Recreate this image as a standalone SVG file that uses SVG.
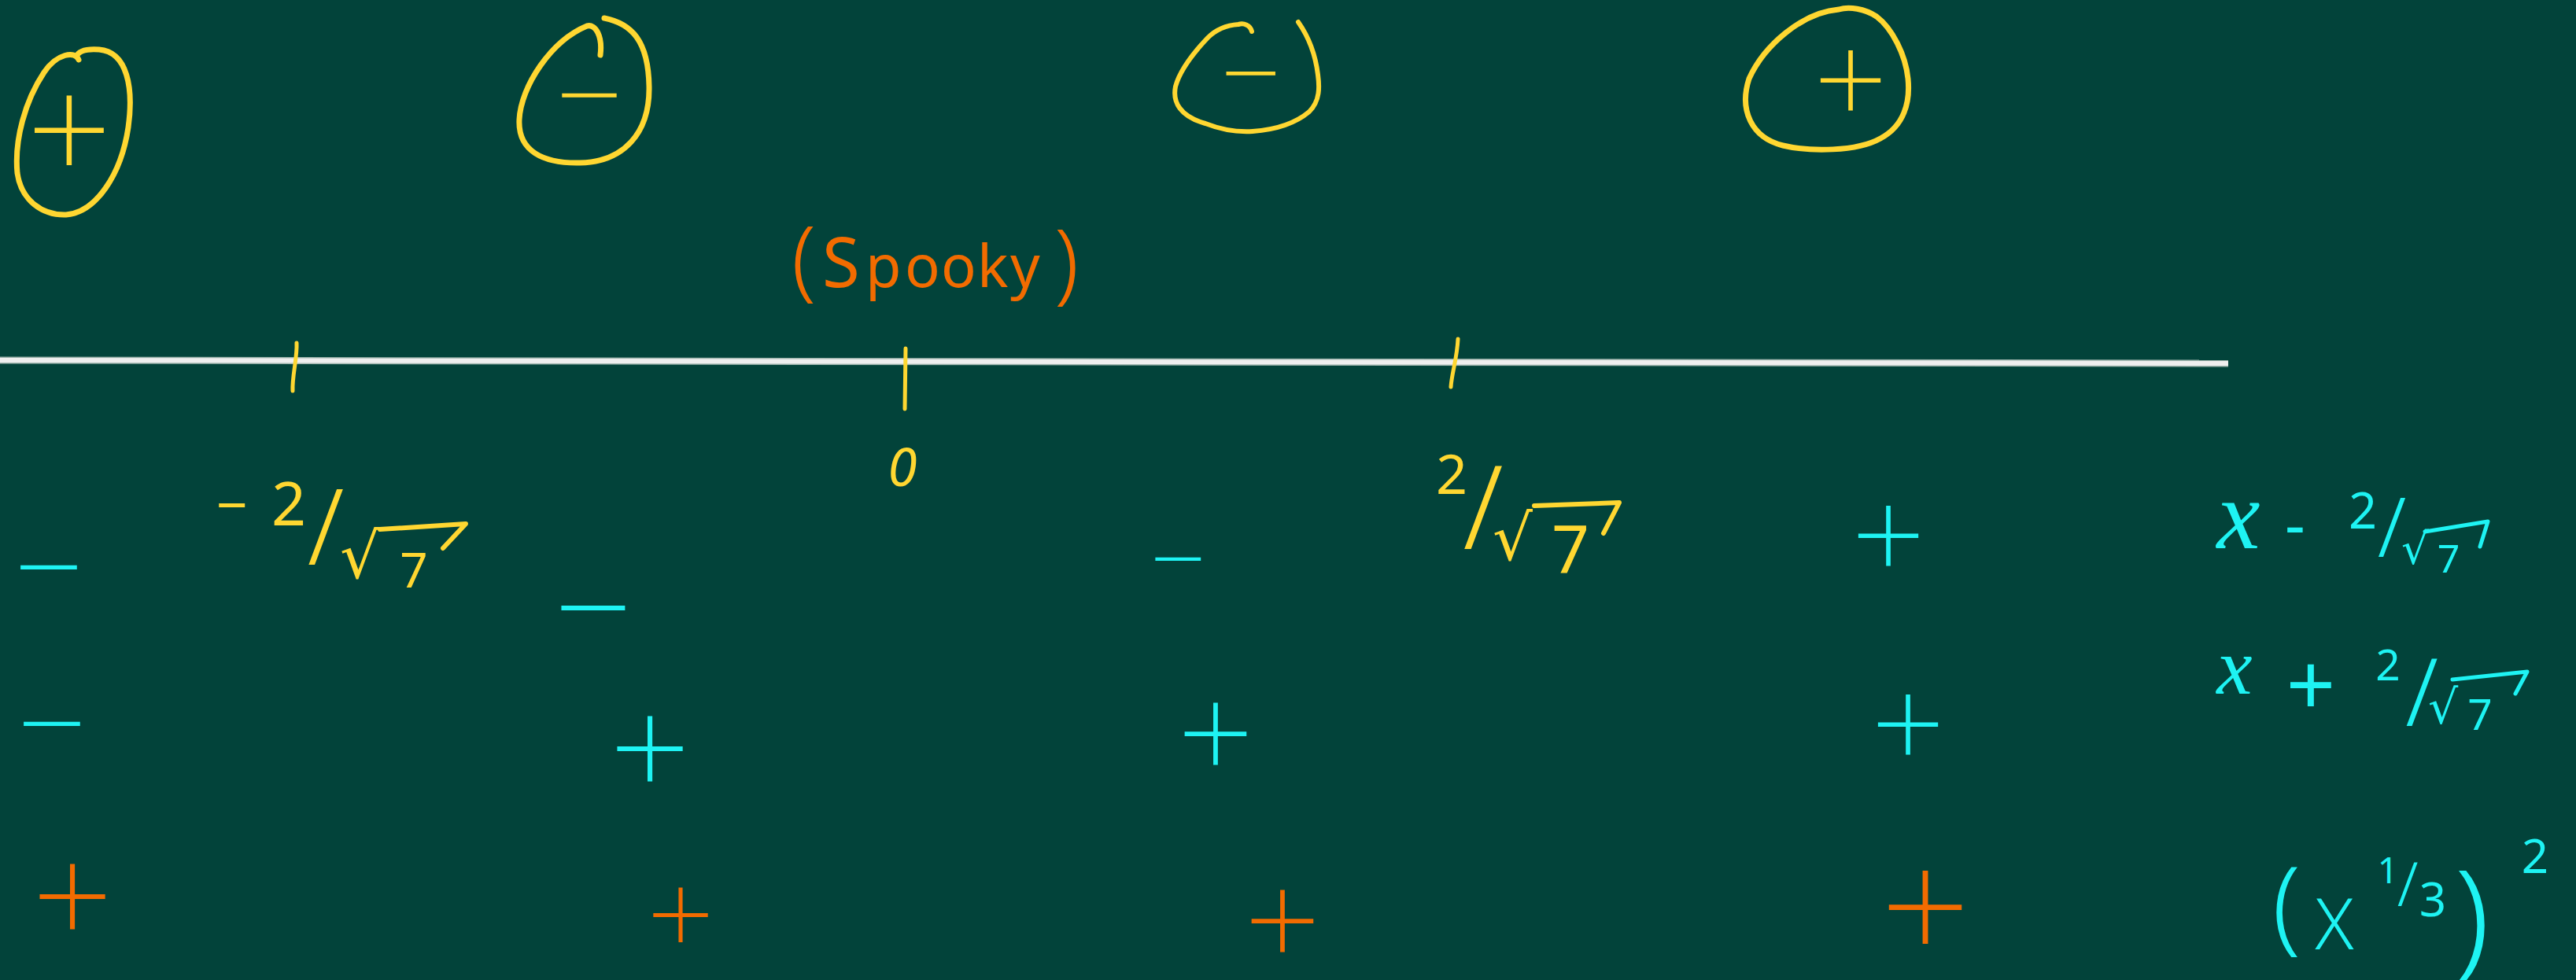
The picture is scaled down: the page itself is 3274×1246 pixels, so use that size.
<svg xmlns="http://www.w3.org/2000/svg" width="3274" height="1246" viewBox="0 0 3274 1246">
<style>
.bg{fill:#02433A}
.ink{fill:none;stroke-linecap:round;stroke-linejoin:round}
.ys{stroke:#FFD731}
.cs{stroke:#1EF3F3}
.yf{fill:#FFD731}
.cf{fill:#1EF3F3}
.of{fill:#F26B00}
.sign{font-family:"Noto Sans","Liberation Sans",sans-serif;font-weight:200;text-anchor:middle}
.t{font-family:"Noto Sans","Liberation Sans",sans-serif;text-anchor:middle}
.sl{font-family:"Noto Sans","Liberation Sans",sans-serif;font-weight:300;text-anchor:middle}
.rad{font-family:"DejaVu Sans",sans-serif}
.mx{font-family:"Liberation Serif",serif;font-style:italic;text-anchor:middle}
.sp{font-family:"Noto Sans","Liberation Sans",sans-serif}
</style>
<rect class="bg" x="0" y="0" width="3274" height="1246"/>

<g id="axis">
<line x1="0" y1="458" x2="2832" y2="462" stroke="#9FB5AE" stroke-width="9"/>
<line x1="0" y1="458" x2="2832" y2="462" stroke="#EFEFEF" stroke-width="6"/>
<g class="ink ys" stroke-width="5">
<path d="M377 436 C378 455 371 478 372 497"/>
<path d="M1151 443 L1150 520"/>
<path d="M1853 431 C1852 455 1845 475 1844 492"/>
</g>
</g>

<g id="region-signs">
<g id="sign1">
<path class="ink ys" stroke-width="7" d="M100 76 C96 64 72 68 56 92 C32 128 18 178 22 220 C27 255 54 274 84 273 C122 270 154 222 163 162 C170 112 162 66 126 63 C112 62 100 64 97 72"/>
<text class="sign yf" x="88" y="233" font-size="190">+</text>
</g>
<g id="sign2">
<path class="ink ys" stroke-width="7" d="M763 70 C766 46 757 30 746 33 C700 52 662 110 660 152 C658 192 690 208 737 207 C792 206 826 170 825 110 C824 52 803 30 768 23"/>
<text class="sign yf" x="749" y="174" font-size="150">−</text>
</g>
<g id="sign3">
<path class="ink ys" stroke-width="6" d="M1591 40 C1589 32 1581 29 1574 31 C1560 32 1546 37 1535 48 C1518 66 1500 88 1494 110 C1490 130 1500 148 1532 157 C1555 166 1575 168 1592 167 C1620 165 1645 158 1664 142 C1678 128 1677 110 1675 95 C1672 70 1664 48 1650 28"/>
<text class="sign yf" x="1590" y="141" font-size="135">−</text>
</g>
<g id="sign4">
<path class="ink ys" stroke-width="7" d="M2337 12 C2290 16 2242 58 2223 100 C2210 140 2226 175 2266 185 C2300 193 2360 193 2390 176 C2420 160 2428 130 2425 100 C2422 70 2405 36 2385 21 C2370 11 2350 8 2337 12"/>
<text class="sign yf" x="2352" y="160" font-size="165">+</text>
</g>
</g>

<g id="spooky">
<text class="sp of" font-size="74" y="366"><tspan x="1006" font-size="112" font-weight="300" y="368">(</tspan><tspan x="1045" font-size="87" y="365">S</tspan><tspan x="1100">p</tspan><tspan x="1150">o</tspan><tspan x="1196">o</tspan><tspan x="1242">k</tspan><tspan x="1284">y</tspan><tspan x="1340" font-size="112" font-weight="300" y="372">)</tspan></text>
</g>

<g id="labels">
<text class="t yf" x="1147" y="618" font-size="67" font-style="italic">0</text>
<g id="lbl-neg">
<text class="t yf" x="295" y="667" font-size="70">−</text>
<text class="t yf" x="367" y="668" font-size="77">2</text>
<text class="sl yf" x="414" y="718" font-size="134">/</text>
<text class="rad yf" x="432" y="735" font-size="80">√</text>
<path class="ink ys" stroke-width="6" d="M483 673 L592 666 L563 697"/>
<text class="t yf" x="526" y="747" font-size="62">7</text>
</g>
<g id="lbl-pos">
<text class="t yf" x="1845" y="628" font-size="70">2</text>
<text class="sl yf" x="1885" y="698" font-size="147">/</text>
<text class="rad yf" x="1897" y="712" font-size="80">√</text>
<path class="ink ys" stroke-width="6" d="M1950 643 L2058 639 L2038 678"/>
<text class="t yf" x="1996" y="728" font-size="84">7</text>
</g>
</g>

<g id="row1">
<text class="sign cf" x="62" y="776" font-size="155">−</text>
<text class="sign cf" x="754" y="835" font-size="175">−</text>
<text class="sign cf" x="1497" y="755" font-size="125">−</text>
<text class="sign cf" x="2400" y="739" font-size="165">+</text>
<g id="expr1">
<text class="mx cf" x="2845" y="697" font-size="124">x</text>
<text class="t cf" x="2917" y="695" font-size="80">-</text>
<text class="t cf" x="3003" y="672" font-size="63">2</text>
<text class="sl cf" x="3040" y="708" font-size="105">/</text>
<text class="rad cf" x="3052" y="717" font-size="55">√</text>
<path class="ink cs" stroke-width="5" d="M3082 676 L3162 663 L3152 695"/>
<text class="t cf" x="3112" y="728" font-size="50">7</text>
</g>
</g>

<g id="row2">
<text class="sign cf" x="66" y="975" font-size="155">−</text>
<text class="sign cf" x="826" y="1015" font-size="180">+</text>
<text class="sign cf" x="1545" y="993" font-size="170">+</text>
<text class="sign cf" x="2425" y="979" font-size="165">+</text>
<g id="expr2">
<text class="mx cf" x="2840" y="882" font-size="102">x</text>
<text class="t cf" x="2937" y="910" font-size="110">+</text>
<text class="t cf" x="3035" y="865" font-size="55">2</text>
<text class="sl cf" x="3078" y="923" font-size="120">/</text>
<text class="rad cf" x="3086" y="920" font-size="60">√</text>
<path class="ink cs" stroke-width="5" d="M3117 864 L3212 854 L3197 882"/>
<text class="t cf" x="3152" y="928" font-size="55">7</text>
</g>
</g>

<g id="row3">
<text class="sign of" x="92" y="1203" font-size="180">+</text>
<text class="sign of" x="865" y="1216" font-size="150">+</text>
<text class="sign of" x="1630" y="1231" font-size="170">+</text>
<text class="sign of" x="2447" y="1224" font-size="200">+</text>
<g id="expr3">
<text class="t cf" x="2906" y="1196" font-size="130" font-weight="300">(</text>
<text class="t cf" x="2967" y="1207" font-size="90" font-weight="300">X</text>
<text class="t cf" x="3035" y="1123" font-size="46">1</text>
<text class="sl cf" x="3060" y="1152" font-size="77">/</text>
<text class="t cf" x="3092" y="1165" font-size="60">3</text>
<text class="t cf" x="3142" y="1222" font-size="160" font-weight="300">)</text>
<text class="t cf" x="3222" y="1110" font-size="60">2</text>
</g>
</g>
</svg>
